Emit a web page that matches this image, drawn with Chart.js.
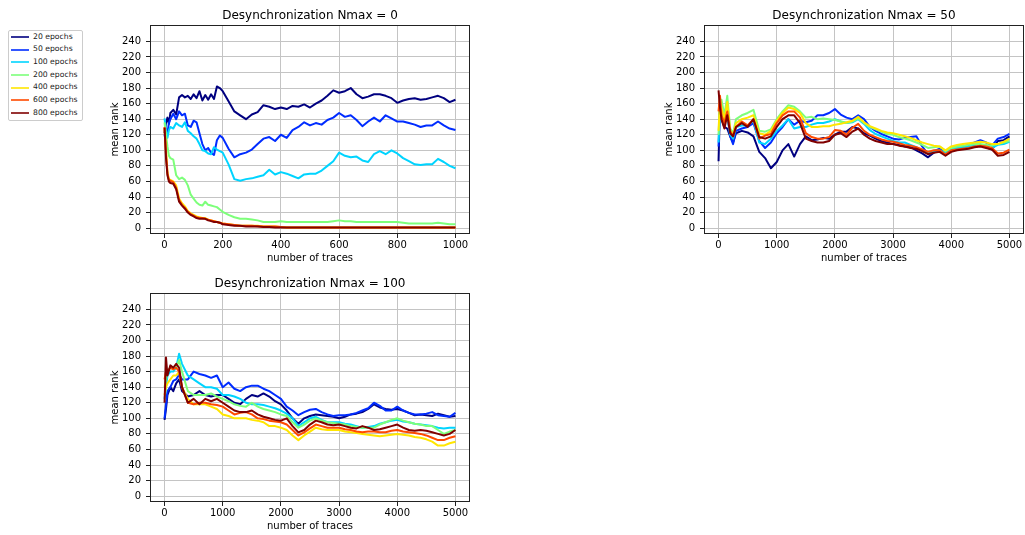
<!DOCTYPE html>
<html><head><meta charset="utf-8">
<script src="https://cdn.jsdelivr.net/npm/chart.js@4.4.0/dist/chart.umd.min.js"></script>
<style>
html,body{margin:0;padding:0;background:#fff;width:1025px;height:535px;overflow:hidden;font-family:"DejaVu Sans",sans-serif}
.wrap{position:absolute}
#legend{position:absolute;left:8px;top:30px;width:73px;height:89px;border:1px solid #cccccc;border-radius:2px;background:#fff}
.sw{position:absolute;left:2px;width:18px;height:2px;opacity:0.8}
.lb{position:absolute;left:24px;font-size:7.7px;line-height:10px;color:#222;white-space:nowrap}
</style></head>
<body>
<div id="legend"></div>
<div class="wrap" style="left:100px;top:0px"><canvas id="c1" width="380" height="270"></canvas></div>
<div class="wrap" style="left:654px;top:0px"><canvas id="c2" width="371" height="270"></canvas></div>
<div class="wrap" style="left:100px;top:268px"><canvas id="c3" width="380" height="267"></canvas></div>
<script>
const seriesNames = ['20 epochs','50 epochs','100 epochs','200 epochs','400 epochs','600 epochs','800 epochs'];
const seriesColors = ['#000080','#002cff','#00d4ff','#7dff7a','#ffe600','#ff4a00','#800000'];
const titles = ['Desynchronization Nmax = 0','Desynchronization Nmax = 50','Desynchronization Nmax = 100'];
const xTicks1 = [0,200,400,600,800,1000];
const xTicks2 = [0,1000,2000,3000,4000,5000];
const yTicks = [0,20,40,60,80,100,120,140,160,180,200,220,240];

const traces1 = [0,5,10,15,20,30,40,50,60,70,80,90,100,110,120,130,140,150,160,170,180,190,200,
  220,240,260,280,300,320,340,360,380,400,420,440,460,480,500,520,540,560,580,600,620,640,660,680,700,720,740,760,780,800,820,840,860,880,900,920,940,960,980,1000];
const traces2 = [0,25,50,100,150,200,250,300,
  400,500,600,700,800,900,1000,1100,1200,1300,1400,1500,1600,1700,1800,1900,2000,2100,2200,2300,2400,2500,2600,2700,2800,2900,3000,3100,3200,3300,3400,3500,3600,3700,3800,3900,4000,4100,4200,4300,4400,4500,4600,4700,4800,4900,5000];

// Nmax = 0
const n0_e20 = [122,135,142,134,148,152,146,168,171,168,170,166,172,167,176,164,171,165,172,166,182,180,176,
  163,150,145,140,146,149,158,156,153,155,153,157,156,159,155,160,164,170,177,174,176,180,172,167,169,172,172,170,167,161,164,166,167,165,166,168,170,167,162,165];
const n0_e50 = [118,128,122,135,140,147,140,150,145,147,132,130,138,136,122,108,100,103,97,94,113,119,116,
  102,91,95,97,101,108,115,117,112,120,116,126,130,136,132,135,133,139,142,148,143,145,139,131,137,142,137,145,141,137,137,135,133,130,132,132,137,132,128,126];
const n0_e100 = [141,125,116,126,130,128,135,132,130,136,125,122,118,115,108,100,99,96,95,104,101,99,97,
  82,63,61,63,64,66,68,75,69,72,70,67,64,69,70,70,74,80,86,97,93,91,92,87,85,95,99,95,100,96,90,86,82,81,82,82,89,85,80,77];
const n0_e200 = [136,120,105,93,90,88,68,63,65,62,55,43,38,33,30,29,34,30,29,28,27,24,21,
  17,14,12,12,11,10,8,8,8,9,8,8,8,8,8,8,8,8,9,10,9,9,8,8,8,8,8,8,8,8,7,6,6,6,6,6,7,6,5,5];
const n0_e400 = [128,100,72,63,62,60,55,38,32,28,22,19,17,15,14,13,13,11,10,9,8,7,6,
  5,4,3,3,3,3,2,2,2,1.5,1,1,1,1,1,1,1,1,1,1,1,1,1,1,1,1,1,1,1,1,1,1,1,1,1,1,1,1,1,1];
const n0_e600 = [130,95,70,62,61,59,52,36,30,26,21,18,16,14,13,13,12,11,10,9,8,7,6,
  5,4,3,3,3,2.5,2,2,2,1.5,1,1,1,1,1,1,1,1,1,1,1,1,1,1,1,1,1,1,1,1,1,1,1,1,1,1,1,1,1,1];
const n0_e800 = [129,90,68,60,58,57,50,34,29,25,20,17,15,13,12,12,12,10,9,8,8,7,5,
  4,3,3,2,2,2,1.5,1.5,1,1,1,1,1,1,1,1,1,1,1,1,1,1,1,1,1,1,1,1,1,1,1,1,1,1,1,1,1,1,1,1];

// Nmax = 50
const n50_e20 = [86,160,140,130,128,118,110,122,
  125,123,118,98,90,77,85,100,108,92, 108,118,113,114,116,115,120,124,124,130,
  128,122,119,115,112,110,108,107,105,104, 100,96,91,97,100,95,100,102,104,104, 105,106,104,101,112,113,118];
const n50_e50 = [105,165,150,140,148,118,108,125,
  128,130,135,112,103,110,122,130,140,133, 138,136,138,145,145,148,153,146,142,140,
  145,140,130,125,121,118,115,114,116,117, 118,105,95,99,102,97,103,105,105,107, 110,113,110,106,115,117,121];
const n50_e100 = [110,150,145,135,145,120,115,130,
  132,132,138,110,108,115,125,132,140,128, 130,130,133,135,135,137,140,137,135,136,
  140,134,126,121,118,115,112,110,110,107, 104,100,96,99,100,97,102,103,104,105, 106,106,105,103,107,108,111];
const n50_e200 = [120,160,165,145,170,128,122,140,
  145,148,152,125,124,127,140,150,158,156, 150,142,143,140,141,140,139,137,135,137,
  141,135,130,127,124,121,120,117,115,113, 110,107,103,104,105,99,103,105,106,107, 108,108,107,106,108,110,112];
const n50_e400 = [125,165,155,140,162,125,120,135,
  140,142,145,122,120,125,138,148,155,153, 148,135,130,130,131,131,133,134,136,138,
  143,136,131,128,125,123,122,120,118,116, 113,110,108,106,105,100,105,107,108,109, 110,111,110,108,108,111,115];
const n50_e600 = [150,170,145,135,150,125,118,130,
  137,132,140,115,119,121,135,145,150,150, 142,122,117,115,115,117,126,125,120,129,
  134,125,120,117,114,112,111,109,107,106, 104,101,98,100,100,95,100,101,102,103, 105,106,105,103,96,97,101];
const n50_e800 = [177,155,140,128,145,122,118,130,
  135,130,140,117,115,118,130,140,145,145, 135,115,112,110,110,112,120,122,117,124,
  128,120,115,112,110,108,108,106,105,103, 102,99,95,97,98,93,98,100,101,102, 104,105,103,101,93,94,98];

// Nmax = 100
const n100_e20 = [98,112,130,140,135,145,150,135,
  128,130,135,130,128,130,130,125,120,118, 125,130,128,132,128,122,118,110,100,93,
  100,103,105,104,103,102,100,102,105,106, 108,112,118,114,112,111,112,110,107,104, 105,104,103,106,104,102,103];
const n100_e50 = [100,118,135,140,148,150,156,150,
  150,160,157,155,152,155,140,146,138,135, 140,142,142,138,135,130,125,115,110,104,
  108,111,112,108,105,103,104,104,105,107, 110,113,120,116,110,110,115,110,107,105, 105,106,108,104,103,102,107];
const n100_e100 = [125,140,155,160,160,165,183,170,
  155,150,145,140,140,138,130,130,128,125, 120,118,118,117,115,113,110,106,100,90,
  95,100,102,98,95,95,95,93,92,90, 88,89,90,93,95,97,98,96,95,93, 92,91,90,88,87,88,88];
const n100_e200 = [140,150,162,165,163,165,175,160,
  135,130,130,130,132,128,125,122,118,116, 115,120,115,112,110,108,105,103,95,88,
  92,97,100,97,95,94,93,92,90,89, 88,88,88,92,95,98,100,97,95,93, 92,90,90,85,80,83,85];
const n100_e400 = [130,140,145,150,155,155,160,140,
  125,118,118,118,115,112,105,103,100,100, 100,98,97,95,90,90,88,85,78,72,
  78,83,88,86,85,85,85,83,82,81, 80,79,78,77,78,79,80,79,78,76, 75,73,70,65,65,68,70];
const n100_e600 = [150,160,160,165,163,165,160,140,
  120,118,120,120,118,117,115,110,105,107, 108,105,100,99,97,96,95,92,85,78,
  82,87,92,90,88,88,88,86,85,83, 82,83,83,82,82,84,85,83,82,81, 80,78,75,72,72,75,77];
const n100_e800 = [120,178,155,168,165,170,165,140,
  120,125,118,125,122,125,120,115,110,108, 108,110,105,102,100,98,97,100,90,82,
  85,92,97,95,92,91,92,90,88,87, 90,88,85,86,88,90,92,88,85,84, 85,84,82,80,78,80,85];

// ---- legend (HTML text) ----
const leg = document.getElementById('legend');
seriesNames.forEach((n, i) => {
  const cy = 6 + i * 12.67;
  const s = document.createElement('div');
  s.className = 'sw'; s.style.top = Math.round(cy - 1) + 'px'; s.style.background = seriesColors[i];
  const t = document.createElement('div');
  t.className = 'lb'; t.style.top = (cy - 5.5) + 'px'; t.textContent = n;
  leg.appendChild(s); leg.appendChild(t);
});

// ---- charts ----
const framePlugin = {
  id: 'frame',
  afterDraw(chart, args, opts) {
    const {ctx, chartArea: a} = chart;
    ctx.save();
    ctx.strokeStyle = '#222';
    ctx.lineWidth = 1;
    ctx.strokeRect(Math.round(a.left) + 0.5, Math.round(a.top) + 0.5,
                   Math.round(a.right - a.left) - 1, Math.round(a.bottom - a.top) - 1);
    ctx.fillStyle = '#000';
    ctx.font = '12px "DejaVu Sans"';
    ctx.textAlign = 'center';
    ctx.textBaseline = 'alphabetic';
    ctx.fillText(opts.text, (a.left + a.right) / 2, a.top - 6);
    ctx.restore();
  }
};

function makeChart(id, xs, series, xTicks, xMin, xMax, title, padRight, xHeight, xTitlePad) {
  const datasets = series.map((ys, i) => ({
    label: seriesNames[i],
    data: ys.map((y, k) => ({x: xs[k], y: y})),
    borderColor: seriesColors[i],
    backgroundColor: seriesColors[i],
    borderWidth: 2,
    pointRadius: 0,
    tension: 0,
    fill: false,
    borderJoinStyle: 'round',
    order: 6 - i
  }));
  const font = {family: 'DejaVu Sans', size: 10};
  return new Chart(document.getElementById(id), {
    type: 'line',
    data: {datasets},
    plugins: [framePlugin],
    options: {
      responsive: false,
      animation: false,
      devicePixelRatio: 1,
      layout: {padding: {left: 0, right: padRight, top: 25, bottom: 0}},
      plugins: {legend: {display: false}, tooltip: {enabled: false}, frame: {text: title}},
      scales: {
        x: {
          type: 'linear', min: xMin, max: xMax,
          afterBuildTicks: s => { s.ticks = xTicks.map(v => ({value: v})); },
          afterFit: s => { s.height = xHeight; },
          grid: {color: '#c4c4c4', lineWidth: 1, tickLength: 4, tickColor: '#222', drawTicks: true},
          border: {display: false},
          ticks: {padding: 1, color: '#000', font, maxRotation: 0, autoSkip: false, callback: v => String(v)},
          title: {display: true, text: 'number of traces', color: '#000', font, padding: {top: 0, bottom: xTitlePad}}
        },
        y: {
          type: 'linear', min: -7.5, max: 261,
          afterBuildTicks: s => { s.ticks = yTicks.map(v => ({value: v})); },
          afterFit: s => { s.width = 50; },
          grid: {color: '#c4c4c4', lineWidth: 1, tickLength: 4, tickColor: '#222', drawTicks: true},
          border: {display: false},
          ticks: {padding: 5, color: '#000', font, autoSkip: false, callback: v => String(v)},
          title: {display: true, text: 'mean rank', color: '#000', font, padding: {top: 9, bottom: 0}}
        }
      }
    }
  });
}

makeChart('c1', traces1, [n0_e20, n0_e50, n0_e100, n0_e200, n0_e400, n0_e600, n0_e800],
  xTicks1, -50, 1050, titles[0], 10, 36, 5.5);
makeChart('c2', traces2, [n50_e20, n50_e50, n50_e100, n50_e200, n50_e400, n50_e600, n50_e800],
  xTicks2, -250, 5250, titles[1], 1, 36, 5.5);
makeChart('c3', traces2, [n100_e20, n100_e50, n100_e100, n100_e200, n100_e400, n100_e600, n100_e800],
  xTicks2, -250, 5250, titles[2], 10, 33, 2.5);
</script>
</body></html>
